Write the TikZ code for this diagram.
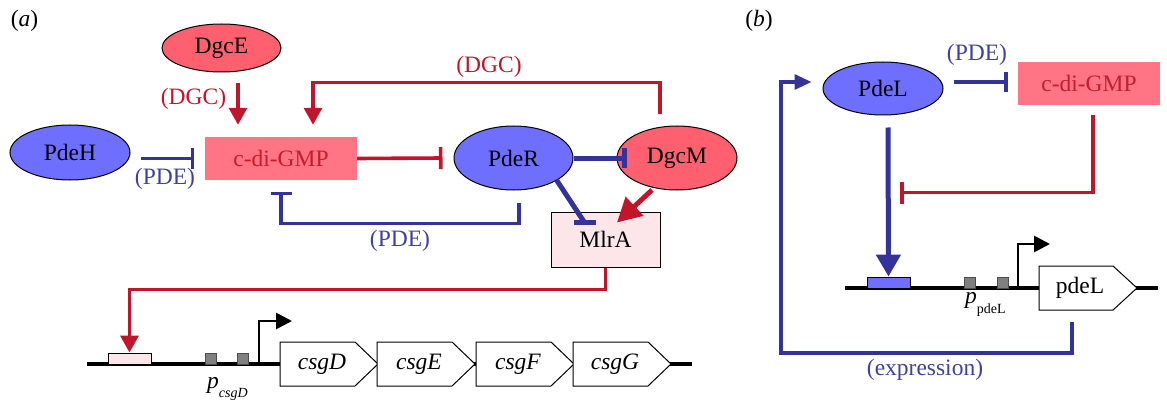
\documentclass[tikz,border=0pt]{standalone}
\usepackage{fontspec}
\setmainfont{Liberation Serif}
\usetikzlibrary{arrows.meta,shapes.geometric,calc}
\definecolor{pdeblue}{RGB}{110,110,255}
\definecolor{dgcred}{RGB}{255,96,112}
\definecolor{gmpfill}{RGB}{255,117,133}
\definecolor{gmptext}{RGB}{196,30,44}
\definecolor{actred}{RGB}{192,21,42}
\definecolor{inhblue}{RGB}{51,51,153}
\definecolor{lblblue}{RGB}{64,64,160}
\definecolor{mlrfill}{RGB}{253,230,233}
\definecolor{sitegray}{RGB}{128,128,128}
\newcommand{\bigfont}{\fontsize{23.5}{28}\selectfont}
\newcommand{\subfont}{\fontsize{14}{16}\selectfont}
\begin{document}
\begin{tikzpicture}[x=1pt,y=-1pt,
  every node/.style={font=\bigfont, inner sep=0pt},
  pdenode/.style={ellipse, draw=black, line width=1pt, fill=pdeblue},
  dgcnode/.style={ellipse, draw=black, line width=1pt, fill=dgcred},
  gmpnode/.style={rectangle, fill=gmpfill, text=gmptext},
  boxnode/.style={rectangle, draw=black, line width=1pt, fill=mlrfill},
  redlbl/.style={text=actred},
  bluelbl/.style={text=lblblue},
  actthin/.style={draw=actred, line width=3.4pt, -{Triangle[length=17pt,width=18pt]}},
  actthick/.style={draw=actred, line width=5pt, -{Triangle[length=24pt,width=25pt]}},
  inhred/.style={draw=actred, line width=3.6pt, -{Bar[width=22pt]}},
  inhblue/.style={draw=inhblue, line width=3.1pt, -{Bar[width=21pt]}},
  inhbluethick/.style={draw=inhblue, line width=5pt, -{Bar[width=20pt]}},
  dna/.style={draw=black, line width=3.2pt},
  site/.style={rectangle, draw=black!70, line width=0.9pt, fill=sitegray, minimum width=11pt, minimum height=11pt},
  bindsite/.style={rectangle, draw=black, line width=0.9pt, minimum width=43pt, minimum height=11pt},
  promoter/.style={draw=black, line width=2.8pt, -{Triangle[length=16pt,width=16pt]}},
  genebox/.style={draw=black, line width=1pt, fill=white, line join=miter}
]
\useasboundingbox (0,0) rectangle (1167,401);

% ---------- panel (a) ----------
\node (tagA) at (24.5,21) {(\textit{a})};

\node[dgcnode, minimum width=119pt, minimum height=48pt] (dgcE) at (221.5,48) {DgcE};
\node[pdenode, minimum width=120pt, minimum height=55pt] (pdeH) at (70,152.5) {PdeH};
\node[gmpnode, minimum width=152pt, minimum height=43pt] (gmpA) at (281,158.5) {c-di-GMP};
\node[pdenode, minimum width=119pt, minimum height=64pt] (pdeR) at (513.5,158) {PdeR};
\node[dgcnode, minimum width=120pt, minimum height=64pt] (dgcM) at (677,158) {DgcM};
\node[boxnode, minimum width=109pt, minimum height=55pt] (mlrA) at (605.5,239.5) {MlrA};

% DgcE and DgcM make c-di-GMP
\draw[actthin] ($(dgcE.south)+(16.5,11)$) -- ($(gmpA.north)+(-43,-12)$);
\node[redlbl] (dgcLblE) at (193.5,99) {(DGC)};
\draw[actthin] ($(dgcM.north)+(-17,-11)$) |- ($(gmpA.north)+(32,-54)$) -- ($(gmpA.north)+(32,-12)$);
\node[redlbl] (dgcLblM) at (489,67) {(DGC)};

% phosphodiesterases degrade c-di-GMP
\draw[inhblue] ($(pdeH.east)+(10,6)$) -- ($(gmpA.west)+(-11,0)$);
\node[bluelbl] (pdeLblH) at (165,179) {(PDE)};
\draw[inhblue] ($(pdeR.south)+(5.5,12)$) |- ($(gmpA.south)+(0,43)$) -- ($(gmpA.south)+(0,12)$);
\node[bluelbl] (pdeLblR) at (400,241) {(PDE)};

% c-di-GMP inhibits PdeR; PdeR inhibits DgcM and MlrA
\draw[inhred] (gmpA.east) -- ($(pdeR.west)+(-11,0)$);
\draw[inhbluethick] (pdeR.east) -- ($(dgcM.west)+(10,0)$);
\coordinate (mlrBar) at ($(mlrA.north)+(-21,11)$);
\draw[draw=inhblue, line width=5pt] ($(pdeR.center)+(43,22)$) -- (mlrBar);
\draw[draw=inhblue, line width=5pt] ($(mlrBar)+(-11,0)$) -- ($(mlrBar)+(11,0)$);
\draw[actthick] ($(dgcM.center)+(-25,32)$) -- ($(mlrA.north)+(11.5,11)$);

% csgD operon
\coordinate (dnaAstart) at (87,364);
\coordinate (dnaAend) at (692,364);
\draw[dna] (dnaAstart) -- (dnaAend);
\node[bindsite, fill=mlrfill] (bsA) at (129.5,358.5) {};
\node[site] (siteA1) at (210.5,358.5) {};
\node[site] (siteA2) at (242.5,358.5) {};
\coordinate (tssA) at (259,364);
\draw[promoter] (tssA) -- ++(0,-43) -- ++(33,0);
\foreach \gx/\gname/\gid in {280/csgD/gD, 377/csgE/gE, 476/csgF/gF, 573/csgG/gG}{
  \draw[genebox] (\gx,342) -- ++(75,0) -- ++(23,22) -- ++(-23,22) -- ++(-75,0) -- cycle;
  \node (\gid) at (\gx+42,364) {\textit{\gname}};
}
\node[anchor=base west] (pcsgD) at (207,388) {\textit{p}\raisebox{-9pt}{\subfont\textit{csgD}}};
\draw[actthin] (mlrA.south) |- ($(bsA.north)+(0,-63)$) -- (bsA.north);

% ---------- panel (b) ----------
\node (tagB) at (759,21) {(\textit{b})};
\node[pdenode, minimum width=120pt, minimum height=53pt] (pdeL) at (883,88.5) {PdeL};
\node[gmpnode, minimum width=142pt, minimum height=43pt] (gmpB) at (1089,83.5) {c-di-GMP};

\draw[draw=inhblue, line width=4pt, -{Bar[width=20pt]}] ($(pdeL.east)+(10,-6.5)$) -- ($(gmpB.west)+(-10,-1.5)$);
\node[bluelbl] (pdeLblL) at (977,55) {(PDE)};

\coordinate (dnaBstart) at (845,288);
\coordinate (dnaBend) at (1158,288);
\draw[dna] (dnaBstart) -- (dnaBend);
\node[bindsite, fill=pdeblue] (bsB) at (888.5,282.5) {};
\node[site] (siteB1) at (969.5,282.5) {};
\node[site] (siteB2) at (1002.5,282.5) {};
\coordinate (tssB) at (1018,288);
\draw[promoter] (tssB) -- ++(0,-44) -- ++(32,0);
\draw[genebox] (1039,266) -- ++(74,0) -- ++(24,22) -- ++(-24,22) -- ++(-74,0) -- cycle;
\node (gL) at (1080,288) {pdeL};
\node[anchor=base west] (ppdeL) at (965,303) {\textit{p}\raisebox{-10pt}{\subfont pdeL}};

% PdeL acts on its own promoter, c-di-GMP counteracts
\draw[draw=inhblue, line width=5pt, -{Triangle[length=22pt,width=24pt]}] ($(pdeL.south)+(5,12)$) -- (bsB.north);
\draw[inhred] ($(gmpB.south)+(4,10)$) |- ($(pdeL.south)+(17,77)$);

% expression feedback
\coordinate (exprStart) at (1072,322);
\draw[draw=inhblue, line width=3.1pt, -{Triangle[length=17pt,width=15pt]}] (exprStart) -- ++(0,31) -| (781,82) -- ($(pdeL.west)+(-11,-6.5)$);
\node[bluelbl] (exprLbl) at (925,370) {(expression)};
\end{tikzpicture}
\end{document}
